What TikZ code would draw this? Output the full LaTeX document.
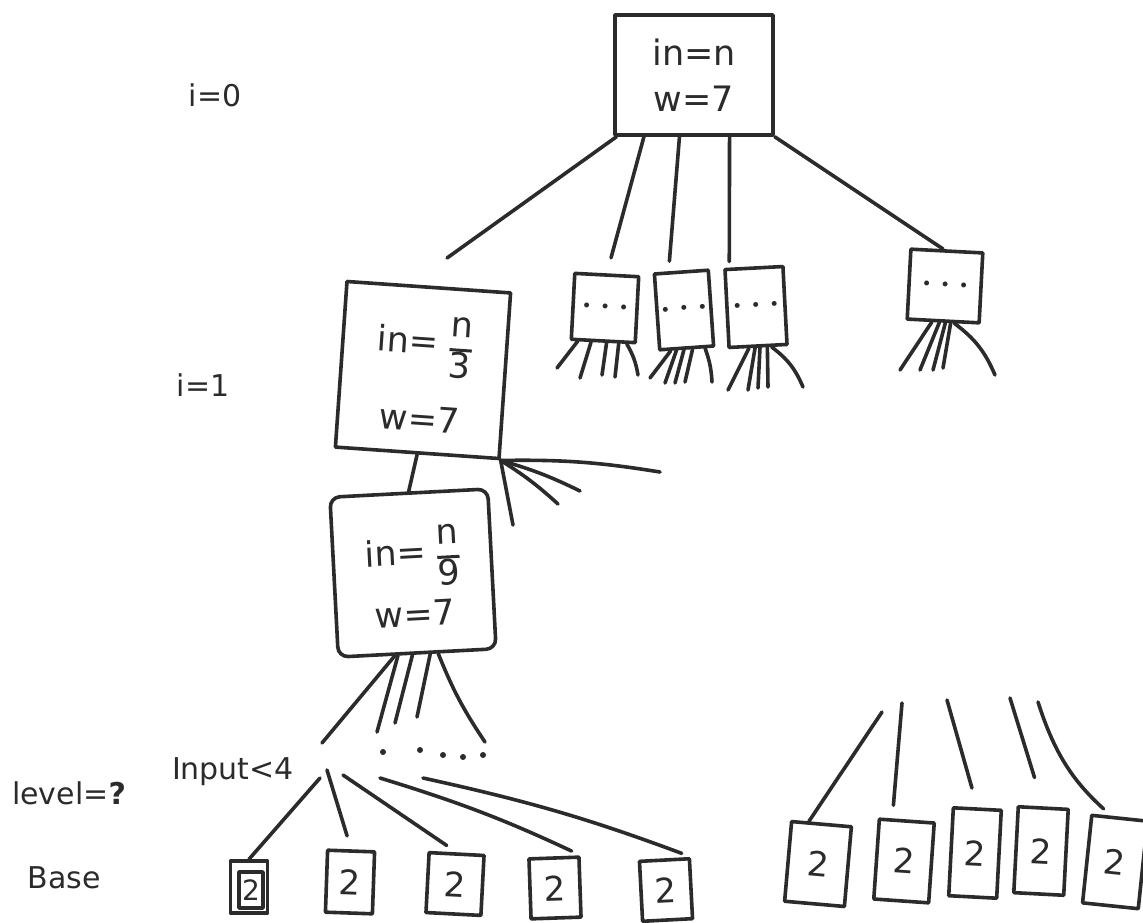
\documentclass[tikz,border=0pt]{standalone}
\usepackage{fontspec}
\setmainfont{DejaVu Sans}
\usetikzlibrary{calc}
\definecolor{inkc}{HTML}{2B2B2B}
\newcommand{\fracx}[2]{$\vcenter{\hbox{\setlength{\arrayrulewidth}{3pt}\renewcommand{\arraystretch}{0.95}\begin{tabular}{@{}c@{}}#1\\\hline #2\end{tabular}}}$}
\begin{document}
\begin{tikzpicture}[x=1pt,y=-1pt,
  ink/.style={draw=inkc, line width=3.6pt, line cap=round, line join=round},
  box/.style={ink, rectangle, inner sep=0pt, text=inkc},
  big/.style={font=\fontsize{35}{40}\selectfont},
  lbl/.style={text=inkc, inner sep=0pt, font=\fontsize{30}{34}\selectfont},
  two/.style={box, font=\fontsize{34}{38}\selectfont},
  dotbox/.style={box, font=\fontsize{17}{19}\selectfont}]
\useasboundingbox (0,0) rectangle (1143,922);

% ---- main boxes
\node[box, big, minimum width=158pt, minimum height=120pt, align=center] (top) at (694,75) {in=n\\[6pt]w=7};
\node[box, big, minimum width=164pt, minimum height=166pt, align=center, rotate=-4] (i1) at (423,370) {in= \fracx{n}{3}\\[18pt]w=7};
\node[box, big, rounded corners=10pt, minimum width=158pt, minimum height=160pt, align=center, rotate=3] (n9) at (413,573) {in= \fracx{n}{9}\\[2pt]w=7};

% ---- small boxes at level 1
\node[dotbox, minimum width=64pt, minimum height=66pt, rotate=-3] (c1) at (605,308) {•\enspace•\enspace•};
\node[dotbox, minimum width=54pt, minimum height=76pt, rotate=4] (c2) at (684,310) {•\enspace•\enspace•};
\node[dotbox, minimum width=58pt, minimum height=78pt, rotate=3] (c3) at (756,307) {•\enspace•\enspace•};
\node[dotbox, minimum width=72pt, minimum height=70pt, rotate=-3] (c4) at (945,286) {•\enspace•\enspace•};

% ---- labels
\node[lbl] (l0) at (215,95) {i=0};
\node[lbl] (l1) at (203,385) {i=1};
\node[lbl] (lev) at (69,793) {level=\textbf{?}};
\node[lbl] (inp) at (233,772) {Input<4};
\node[lbl] (base) at (64,878) {Base};

% ---- base boxes, left
\node[two, minimum width=37pt, minimum height=52pt] (b1) at (249,887) {};
\node[two, minimum width=24pt, minimum height=36pt, font=\fontsize{28}{30}\selectfont] (b1in) at (251,890) {2};
\node[two, minimum width=47pt, minimum height=62pt, rotate=-2] (b2) at (350,882) {2};
\node[two, minimum width=55pt, minimum height=60pt, rotate=-3] (b3) at (455,884) {2};
\node[two, minimum width=50pt, minimum height=60pt, rotate=2] (b4) at (555,888) {2};
\node[two, minimum width=50pt, minimum height=60pt, rotate=3] (b5) at (666,890) {2};

% ---- base boxes, right
\node[two, minimum width=60pt, minimum height=80pt, rotate=-5] (r1) at (818,864) {2};
\node[two, minimum width=55pt, minimum height=80pt, rotate=-4] (r2) at (904,861) {2};
\node[two, minimum width=48pt, minimum height=88pt, rotate=-3] (r3) at (975,853) {2};
\node[two, minimum width=50pt, minimum height=86pt, rotate=-3] (r4) at (1041,851) {2};
\node[two, minimum width=56pt, minimum height=88pt, rotate=-6] (r5) at (1115,862) {2};

% ---- edges from the root
\coordinate (a1) at (447,258);
\draw[ink] ($(top.south west)!0.02!(top.south east)$) -- (a1);
\draw[ink, shorten >=16pt] ($(top.south west)!0.19!(top.south east)$) -- (c1.north);
\draw[ink, shorten >=10pt] ($(top.south west)!0.41!(top.south east)$) -- ($(c2.north west)!0.28!(c2.north east)$);
\draw[ink, shorten >=6pt] ($(top.south west)!0.72!(top.south east)$) -- ($(c3.north west)!0.1!(c3.north east)$);
\draw[ink] (top.south east) -- ($(c4.north west)!0.45!(c4.north east)$);

% ---- fans under small boxes
\foreach \t/\x/\y [count=\k] in {0.12/557/368, 0.32/580/378, 0.55/602/375, 0.73/615/377}
  {\coordinate (fa\k) at (\x,\y); \draw[ink] ($(c1.south west)!\t!(c1.south east)$) -- (fa\k);}
\coordinate (fa5) at (638,375);
\draw[ink] ($(c1.south west)!0.85!(c1.south east)$) to[bend left=10] (fa5);

\foreach \t/\x/\y [count=\k] in {0.22/650/378, 0.32/665/383, 0.45/675/383, 0.6/685/382}
  {\coordinate (fb\k) at (\x,\y); \draw[ink] ($(c2.south west)!\t!(c2.south east)$) -- (fb\k);}
\coordinate (fb5) at (712,382);
\draw[ink] ($(c2.south west)!0.82!(c2.south east)$) to[bend left=8] (fb5);

\foreach \t/\x/\y [count=\k] in {0.35/728/390, 0.45/748/390, 0.53/758/388, 0.65/768/387}
  {\coordinate (fc\k) at (\x,\y); \draw[ink] ($(c3.south west)!\t!(c3.south east)$) -- (fc\k);}
\coordinate (fc5) at (803,387);
\draw[ink] ($(c3.south west)!0.72!(c3.south east)$) to[bend left=15] (fc5);

\foreach \t/\x/\y [count=\k] in {0.35/900/370, 0.45/920/370, 0.53/933/370, 0.6/943/368}
  {\coordinate (fd\k) at (\x,\y); \draw[ink] ($(c4.south west)!\t!(c4.south east)$) -- (fd\k);}
\coordinate (fd5) at (995,375);
\draw[ink] ($(c4.south west)!0.65!(c4.south east)$) to[bend left=15] (fd5);

% ---- fan from i=1 box corner
\foreach \x/\y [count=\k] in {660/472, 580/491, 558/504}
  {\coordinate (fe\k) at (\x,\y); \draw[ink] (i1.south east) to[bend left=5] (fe\k);}
\coordinate (fe4) at (513,525);
\draw[ink] (i1.south east) -- (fe4);

% ---- i=1 to n/9
\draw[ink] (i1.south) -- (n9.north);

% ---- fan under n/9
\coordinate (fg1) at (322,743);
\draw[ink] ($(n9.south west)!0.36!(n9.south east)$) -- (fg1);
\foreach \t/\x/\y [count=\k from 2] in {0.38/377/732, 0.47/395/723, 0.58/417/717}
  {\coordinate (fg\k) at (\x,\y); \draw[ink] ($(n9.south west)!\t!(n9.south east)$) -- (fg\k);}
\coordinate (fg5) at (485,742);
\draw[ink] ($(n9.south west)!0.63!(n9.south east)$) to[bend right=6] (fg5);

% ---- dots
\foreach \x/\y in {383/752, 420/750, 443/755, 463/757, 483/755}
  \fill[inkc] (\x,\y) circle (3pt);

% ---- fan to left base boxes
\coordinate (h1) at (320,778);
\coordinate (h2) at (327,770);
\coordinate (h3) at (343,775);
\coordinate (h4) at (380,778);
\coordinate (h5) at (423,778);
\draw[ink] (h1) -- (b1.north);
\draw[ink, shorten >=14pt] (h2) -- (b2.north);
\draw[ink, shorten >=12pt] (h3) -- (b3.north);
\draw[ink, shorten >=10pt] (h4) to[bend left=4] (b4.north east);
\draw[ink, shorten >=10pt] (h5) to[bend left=4] (b5.north east);

% ---- fan to right base boxes
\coordinate (rt1) at (882,712);
\coordinate (rt2) at (902,703);
\coordinate (rt3) at (947,700);
\coordinate (rt4) at (1010,698);
\coordinate (rt5) at (1038,702);
\draw[ink] (rt1) -- ($(r1.north west)!0.3!(r1.north east)$);
\draw[ink, shorten >=13pt] (rt2) -- ($(r2.north west)!0.25!(r2.north east)$);
\draw[ink, shorten >=20pt] (rt3) -- (r3.north);
\draw[ink, shorten >=30pt] (rt4) -- (r4.north);
\draw[ink, shorten >=10pt] (rt5) to[bend right=15] ($(r5.north west)!0.35!(r5.north east)$);
\end{tikzpicture}
\end{document}
